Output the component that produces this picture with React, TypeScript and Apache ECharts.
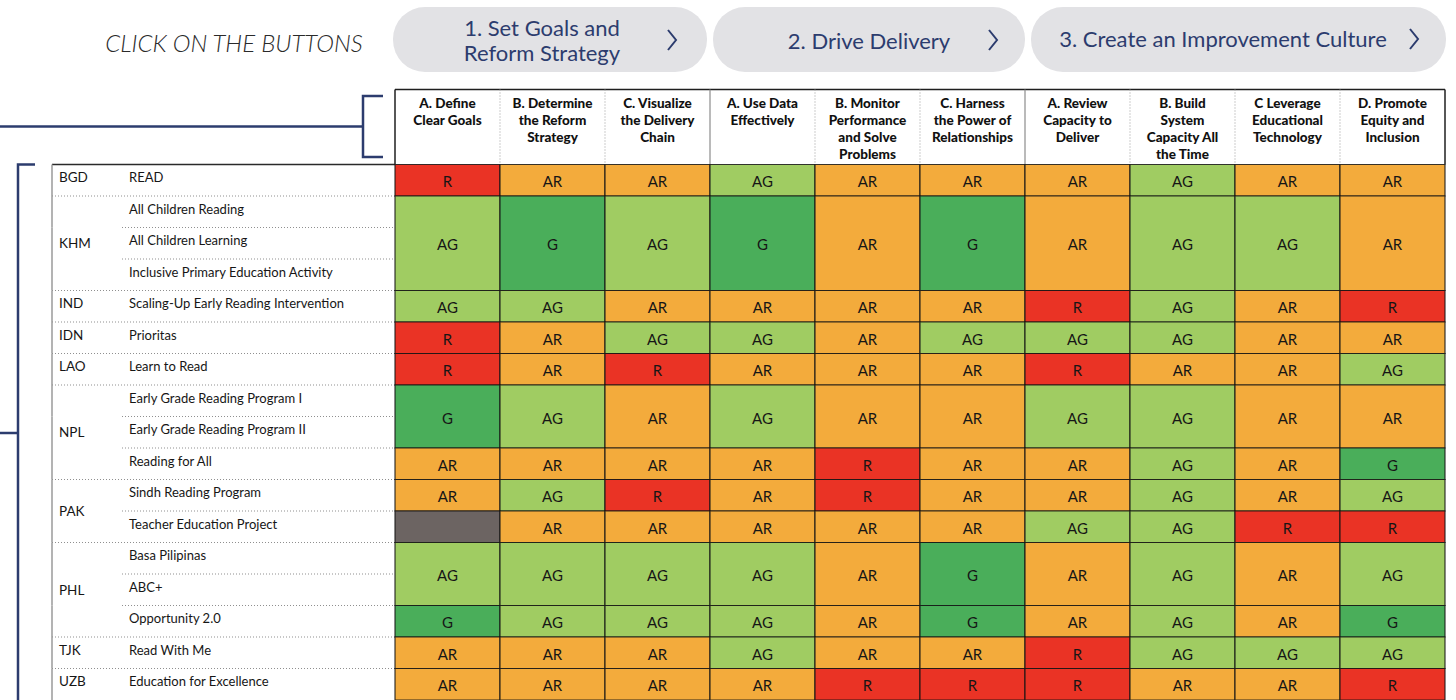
import React, { useEffect, useRef } from "react";
import * as echarts from "echarts";

// ---------- DATA ----------
const criteria = [
  "A. Define\nClear Goals",
  "B. Determine\nthe Reform\nStrategy",
  "C. Visualize\nthe Delivery\nChain",
  "A. Use Data\nEffectively",
  "B. Monitor\nPerformance\nand Solve\nProblems",
  "C. Harness\nthe Power of\nRelationships",
  "A. Review\nCapacity to\nDeliver",
  "B. Build\nSystem\nCapacity All\nthe Time",
  "C Leverage\nEducational\nTechnology",
  "D. Promote\nEquity and\nInclusion",
];
const phaseSizes = [3, 3, 4];
const phaseTitles = ["1. Set Goals and\nReform Strategy", "2. Drive Delivery", "3. Create an Improvement Culture"];
const instruction = "CLICK ON THE BUTTONS";

const countries = ["BGD", "KHM", "IND", "IDN", "LAO", "NPL", "PAK", "PHL", "TJK", "UZB"];
const programs = [
  "READ",
  "All Children Reading",
  "All Children Learning",
  "Inclusive Primary Education Activity",
  "Scaling-Up Early Reading Intervention",
  "Prioritas",
  "Learn to Read",
  "Early Grade Reading Program I",
  "Early Grade Reading Program II",
  "Reading for All",
  "Sindh Reading Program",
  "Teacher Education Project",
  "Basa Pilipinas",
  "ABC+",
  "Opportunity 2.0",
  "Read With Me",
  "Education for Excellence",
];
const programCountry = [0, 1, 1, 1, 2, 3, 4, 5, 5, 5, 6, 6, 7, 7, 7, 8, 9];

// rating blocks (merged program rows share one rating row)
const blockStart = [0, 1, 4, 5, 6, 7, 9, 10, 11, 12, 14, 15, 16];
const blockSpan = [1, 3, 1, 1, 1, 2, 1, 1, 1, 2, 1, 1, 1];
const ratingsBGD = ["R", "AR", "AR", "AG", "AR", "AR", "AR", "AG", "AR", "AR"];
const ratingsKHM = ["AG", "G", "AG", "G", "AR", "G", "AR", "AG", "AG", "AR"];
const ratingsIND = ["AG", "AG", "AR", "AR", "AR", "AR", "R", "AG", "AR", "R"];
const ratingsIDN = ["R", "AR", "AG", "AG", "AR", "AG", "AG", "AG", "AR", "AR"];
const ratingsLAO = ["R", "AR", "R", "AR", "AR", "AR", "R", "AR", "AR", "AG"];
const ratingsNPL1 = ["G", "AG", "AR", "AG", "AR", "AR", "AG", "AG", "AR", "AR"];
const ratingsNPL2 = ["AR", "AR", "AR", "AR", "R", "AR", "AR", "AG", "AR", "G"];
const ratingsPAK1 = ["AR", "AG", "R", "AR", "R", "AR", "AR", "AG", "AR", "AG"];
const ratingsPAK2 = ["NA", "AR", "AR", "AR", "AR", "AR", "AG", "AG", "R", "R"];
const ratingsPHL1 = ["AG", "AG", "AG", "AG", "AR", "G", "AR", "AG", "AR", "AG"];
const ratingsPHL2 = ["G", "AG", "AG", "AG", "AR", "G", "AR", "AG", "AR", "G"];
const ratingsTJK = ["AR", "AR", "AR", "AG", "AR", "AR", "R", "AG", "AG", "AG"];
const ratingsUZB = ["AR", "AR", "AR", "AR", "R", "R", "R", "AR", "AR", "R"];
const blockRatings = [
  ratingsBGD, ratingsKHM, ratingsIND, ratingsIDN, ratingsLAO, ratingsNPL1, ratingsNPL2,
  ratingsPAK1, ratingsPAK2, ratingsPHL1, ratingsPHL2, ratingsTJK, ratingsUZB,
];

// ---------- STYLE ----------
const FONT = "Lato, 'Open Sans', sans-serif";
const NAVY = "#2c3c6e";
const ratingColors: Record<string, string> = {
  R: "#ea3325",
  AR: "#f3ab3c",
  AG: "#a0cc62",
  G: "#4aae5a",
  NA: "#6c6462",
};
const GRID_LEFT = 395;
const GRID_TOP = 164.5;
const COL_W = 105;
const ROW_H = 31.65;
const HEADER_H = 75;

export default function App() {
  const ref = useRef<HTMLDivElement>(null);

  useEffect(() => {
    document.body.style.margin = "0";
    const chart = echarts.init(ref.current!, null, { renderer: "svg" });

    const nCols = criteria.length;
    const nRows = programs.length;

    // cells
    const cells: { c: number; r: number; span: number; v: string }[] = [];
    blockRatings.forEach((row, b) => {
      row.forEach((v, c) => cells.push({ c, r: blockStart[b], span: blockSpan[b], v }));
    });

    // phase boundaries
    const phaseBounds: number[] = [];
    let acc = 0;
    phaseSizes.forEach((s) => {
      acc += s;
      phaseBounds.push(acc);
    });

    // country centers
    const countryRows = countries.map((_, k) => {
      const idx = programCountry.map((p, i) => (p === k ? i : -1)).filter((i) => i >= 0);
      return { start: idx[0], count: idx.length };
    });

    const option: any = {
      animation: false,
      grid: { left: GRID_LEFT, top: GRID_TOP, width: COL_W * nCols, height: ROW_H * nRows },
      xAxis: { type: "value", min: 0, max: nCols, show: false },
      yAxis: { type: "value", min: 0, max: nRows, inverse: true, show: false },
      series: [
        // header
        {
          type: "custom",
          coordinateSystem: "cartesian2d",
          clip: false,
          silent: true,
          data: criteria.map((_, i) => [i, 0]),
          encode: { x: 0, y: 1 },
          renderItem: (params: any, api: any) => {
            const i = api.value(0);
            const p0 = api.coord([i, 0]);
            const p1 = api.coord([i + 1, 0]);
            const yb = p0[1];
            const yt = yb - HEADER_H;
            const children: any[] = [
              { type: "rect", shape: { x: p0[0], y: yt, width: p1[0] - p0[0], height: HEADER_H }, style: { fill: "#ffffff" } },
              { type: "line", shape: { x1: p0[0], y1: yt, x2: p1[0], y2: yt }, style: { stroke: "#1f1f1f", lineWidth: 1.5 } },
            ];
            if (i === 0) {
              children.push({ type: "line", shape: { x1: p0[0], y1: yt, x2: p0[0], y2: yb }, style: { stroke: "#1f1f1f", lineWidth: 1.5 } });
            } else if (phaseBounds.indexOf(i) >= 0) {
              children.push({ type: "line", shape: { x1: p0[0], y1: yt, x2: p0[0], y2: yb }, style: { stroke: "#8c8c8c", lineWidth: 1.2 } });
            } else {
              children.push({ type: "line", shape: { x1: p0[0], y1: yt, x2: p0[0], y2: yb }, style: { stroke: "#9a9a9a", lineWidth: 1, lineDash: [1, 2] } });
            }
            if (i === nCols - 1) {
              children.push({ type: "line", shape: { x1: p1[0], y1: yt, x2: p1[0], y2: yb }, style: { stroke: "#1f1f1f", lineWidth: 1.5 } });
            }
            children.push({
              type: "text",
              style: {
                text: criteria[i],
                x: (p0[0] + p1[0]) / 2,
                y: yt + 5,
                align: "center",
                verticalAlign: "top",
                lineHeight: 17,
                font: `900 13.5px ${FONT}`,
                fill: "#111111",
              },
            });
            return { type: "group", children };
          },
          z: 2,
        },
        // cells
        {
          type: "custom",
          coordinateSystem: "cartesian2d",
          clip: false,
          silent: true,
          data: cells.map((d) => [d.c, d.r, d.span]),
          encode: { x: 0, y: 1 },
          renderItem: (params: any, api: any) => {
            const d = cells[params.dataIndex];
            const p0 = api.coord([d.c, d.r]);
            const p1 = api.coord([d.c + 1, d.r + d.span]);
            const children: any[] = [
              {
                type: "rect",
                shape: { x: p0[0], y: p0[1], width: p1[0] - p0[0], height: p1[1] - p0[1] },
                style: { fill: ratingColors[d.v], stroke: "rgba(20,20,20,0.85)", lineWidth: 1.2 },
              },
            ];
            if (d.v !== "NA") {
              children.push({
                type: "text",
                style: {
                  text: d.v,
                  x: (p0[0] + p1[0]) / 2,
                  y: (p0[1] + p1[1]) / 2 + 1,
                  align: "center",
                  verticalAlign: "middle",
                  font: `15px ${FONT}`,
                  fill: "#161616",
                },
              });
            }
            return { type: "group", children };
          },
          z: 3,
        },
        // program labels + row separators in left table
        {
          type: "custom",
          coordinateSystem: "cartesian2d",
          clip: false,
          silent: true,
          data: programs.map((_, r) => [0, r]),
          encode: { x: 0, y: 1 },
          renderItem: (params: any, api: any) => {
            const r = api.value(1);
            const pTop = api.coord([0, r]);
            const pBot = api.coord([0, r + 1]);
            const x0 = pTop[0];
            const tableLeft = x0 - 343;
            const subLeft = x0 - 273;
            const children: any[] = [];
            if (r === 0) {
              children.push({ type: "line", shape: { x1: tableLeft, y1: pTop[1], x2: x0, y2: pTop[1] }, style: { stroke: "#2a2a2a", lineWidth: 1.5 } });
            } else {
              const newCountry = programCountry[r] !== programCountry[r - 1];
              children.push({
                type: "line",
                shape: { x1: newCountry ? tableLeft : subLeft, y1: pTop[1], x2: x0, y2: pTop[1] },
                style: { stroke: "#8f8f8f", lineWidth: 1, lineDash: [1, 2] },
              });
            }
            children.push({ type: "line", shape: { x1: tableLeft, y1: pTop[1], x2: tableLeft, y2: pBot[1] }, style: { stroke: "#9a9a9a", lineWidth: 1.5 } });
            children.push({
              type: "text",
              style: {
                text: programs[r],
                x: x0 - 266,
                y: (pTop[1] + pBot[1]) / 2 - 3,
                align: "left",
                verticalAlign: "middle",
                font: `13px ${FONT}`,
                fill: "#161616",
              },
            });
            return { type: "group", children };
          },
          z: 2,
        },
        // country labels
        {
          type: "custom",
          coordinateSystem: "cartesian2d",
          clip: false,
          silent: true,
          data: countryRows.map((g) => [0, g.start + g.count / 2]),
          encode: { x: 0, y: 1 },
          renderItem: (params: any, api: any) => {
            const k = params.dataIndex;
            const p = api.coord([0, api.value(1)]);
            const single = countryRows[k].count === 1;
            return {
              type: "text",
              style: {
                text: countries[k],
                x: p[0] - 336,
                y: p[1] + (single ? -3 : 0),
                align: "left",
                verticalAlign: "middle",
                font: `13.5px ${FONT}`,
                fill: "#161616",
              },
            };
          },
          z: 2,
        },
      ],
      graphic: [
        // instruction
        {
          type: "text",
          style: {
            text: instruction,
            x: 234,
            y: 42,
            align: "center",
            verticalAlign: "middle",
            font: `italic 300 24px ${FONT}`,
            fill: "#2a2a2a",
          },
        },
        // buttons
        { type: "rect", shape: { x: 393, y: 7, width: 314, height: 65, r: 32 }, style: { fill: "#e2e2e5" } },
        { type: "rect", shape: { x: 713, y: 7, width: 312, height: 65, r: 32 }, style: { fill: "#e2e2e5" } },
        { type: "rect", shape: { x: 1031, y: 7, width: 415, height: 65, r: 32 }, style: { fill: "#e2e2e5" } },
        {
          type: "text",
          style: { text: phaseTitles[0], x: 542, y: 40, align: "center", verticalAlign: "middle", lineHeight: 25, font: `22px ${FONT}`, fill: NAVY },
        },
        {
          type: "text",
          style: { text: phaseTitles[1], x: 869, y: 40, align: "center", verticalAlign: "middle", font: `22px ${FONT}`, fill: NAVY },
        },
        {
          type: "text",
          style: { text: phaseTitles[2], x: 1223, y: 38, align: "center", verticalAlign: "middle", font: `22px ${FONT}`, fill: NAVY },
        },
        { type: "polyline", shape: { points: [[668, 30], [676, 40], [668, 50]] }, style: { stroke: NAVY, lineWidth: 2, fill: "none" } },
        { type: "polyline", shape: { points: [[989, 30], [997, 40], [989, 50]] }, style: { stroke: NAVY, lineWidth: 2, fill: "none" } },
        { type: "polyline", shape: { points: [[1410, 29], [1418, 39], [1410, 49]] }, style: { stroke: NAVY, lineWidth: 2, fill: "none" } },
        // top bracket
        { type: "line", shape: { x1: 0, y1: 126.5, x2: 363, y2: 126.5 }, style: { stroke: NAVY, lineWidth: 2.5 } },
        { type: "polyline", shape: { points: [[383, 96], [363, 96], [363, 157], [383, 157]] }, style: { stroke: NAVY, lineWidth: 2.5, fill: "none" } },
        // left bracket
        { type: "polyline", shape: { points: [[35, 164.5], [18, 164.5], [18, 702]] }, style: { stroke: NAVY, lineWidth: 2.5, fill: "none" } },
        { type: "line", shape: { x1: 0, y1: 433, x2: 18, y2: 433 }, style: { stroke: NAVY, lineWidth: 2.5 } },
      ],
    };

    chart.setOption(option);
    return () => chart.dispose();
  }, []);

  return <div ref={ref} style={{ width: 1456, height: 700 }} />;
}
